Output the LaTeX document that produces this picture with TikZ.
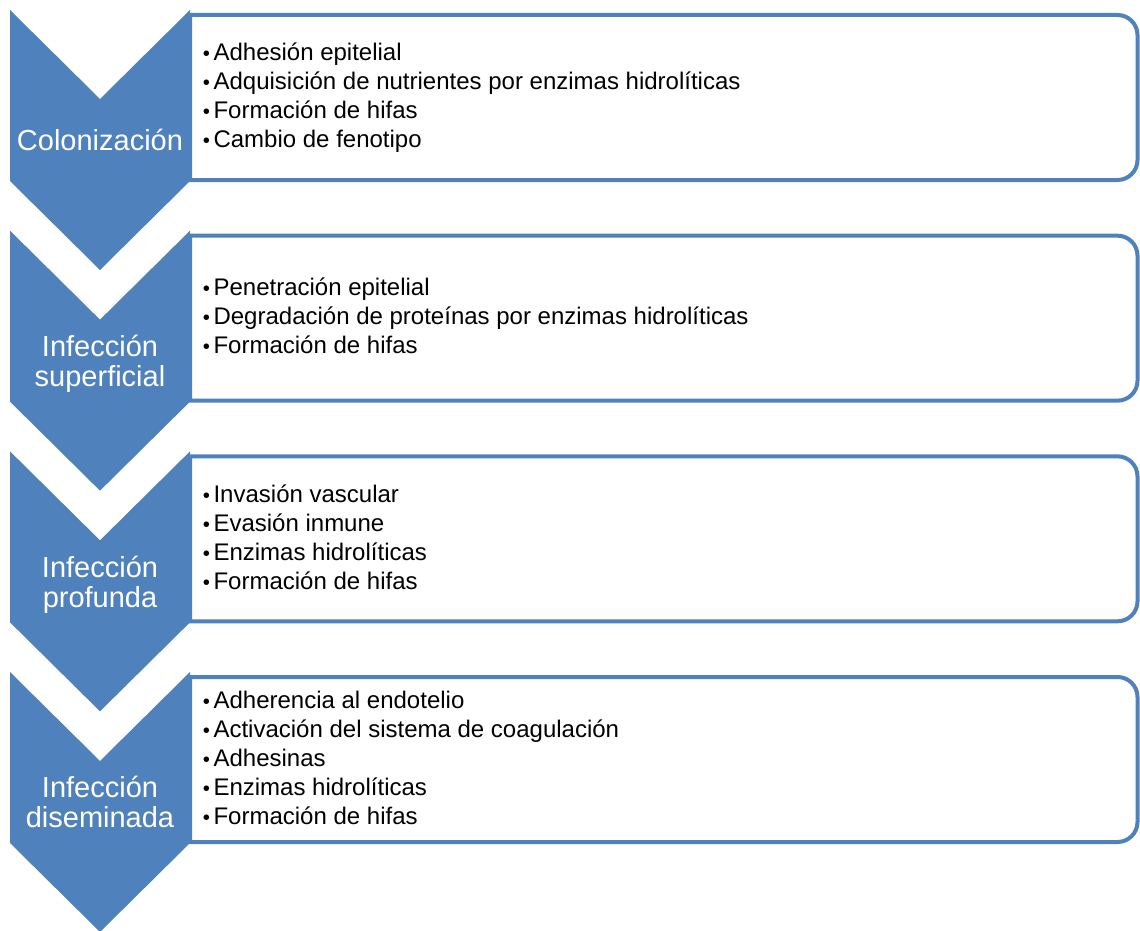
\documentclass[tikz,border=0pt]{standalone}
\usepackage{fontspec}
\setmainfont{Liberation Sans}
\definecolor{stageblue}{HTML}{4F81BD}
\begin{document}
\begin{tikzpicture}[x=0.75pt, y=-0.75pt,
  chevron/.style={fill=stageblue, draw=none},
  listbox/.style={draw=stageblue, line width=3pt, fill=white},
  stagelabel/.style={anchor=base, inner sep=0pt, text=white,
    font=\fontsize{21.75pt}{24pt}\selectfont},
  item/.style={anchor=base west, inner sep=0pt, text=black,
    font=\fontsize{18pt}{21pt}\selectfont}]
\useasboundingbox (0,0) rectangle (1140,931);

% list boxes: square on the left, rounded on the right
\foreach \t in {10, 230.67, 451.33, 672} {
  \draw[listbox] (190,\t+5) -- (1117.5,\t+5)
    arc[start angle=90, end angle=0, radius=15pt]
    -- (1137.5,\t+150)
    arc[start angle=0, end angle=-90, radius=15pt]
    -- (190,\t+170) -- cycle;
}

% downward chevrons
\foreach \t in {10, 230.67, 451.33, 672} {
  \fill[chevron] (10,\t) -- (100,\t+89) -- (190,\t) -- (190,\t+171)
    -- (100,\t+260) -- (10,\t+171) -- cycle;
}

% stage labels
\node[stagelabel] (s1) at (100,150.5) {Colonización};
\node[stagelabel] (s2a) at (100,356.2) {Infección};
\node[stagelabel] (s2b) at (100,386.2) {superficial};
\node[stagelabel] (s3a) at (100,577) {Infección};
\node[stagelabel] (s3b) at (100,607) {profunda};
\node[stagelabel] (s4a) at (100,797.5) {Infección};
\node[stagelabel] (s4b) at (100,827.5) {diseminada};

% bullet items: a slightly reduced bullet, then the text
\newcommand{\bul}{\makebox[8.1pt][l]{\fontsize{15.3pt}{15.3pt}\selectfont •}}
\node[item] (l1a) at (202.5,60.7) {\bul Adhesión epitelial};
\node[item] (l1b) at (202.5,89.7) {\bul Adquisición de nutrientes por enzimas hidrolíticas};
\node[item] (l1c) at (202.5,118.7) {\bul Formación de hifas};
\node[item] (l1d) at (202.5,147.7) {\bul Cambio de fenotipo};

\node[item] (l2a) at (202.5,295.9) {\bul Penetración epitelial};
\node[item] (l2b) at (202.5,324.9) {\bul Degradación de proteínas por enzimas hidrolíticas};
\node[item] (l2c) at (202.5,353.9) {\bul Formación de hifas};

\node[item] (l3a) at (202.5,502) {\bul Invasión vascular};
\node[item] (l3b) at (202.5,531) {\bul Evasión inmune};
\node[item] (l3c) at (202.5,560) {\bul Enzimas hidrolíticas};
\node[item] (l3d) at (202.5,589) {\bul Formación de hifas};

\node[item] (l4a) at (202.5,708.2) {\bul Adherencia al endotelio};
\node[item] (l4b) at (202.5,737.2) {\bul Activación del sistema de coagulación};
\node[item] (l4c) at (202.5,766.2) {\bul Adhesinas};
\node[item] (l4d) at (202.5,795.2) {\bul Enzimas hidrolíticas};
\node[item] (l4e) at (202.5,824.2) {\bul Formación de hifas};
\end{tikzpicture}
\end{document}
